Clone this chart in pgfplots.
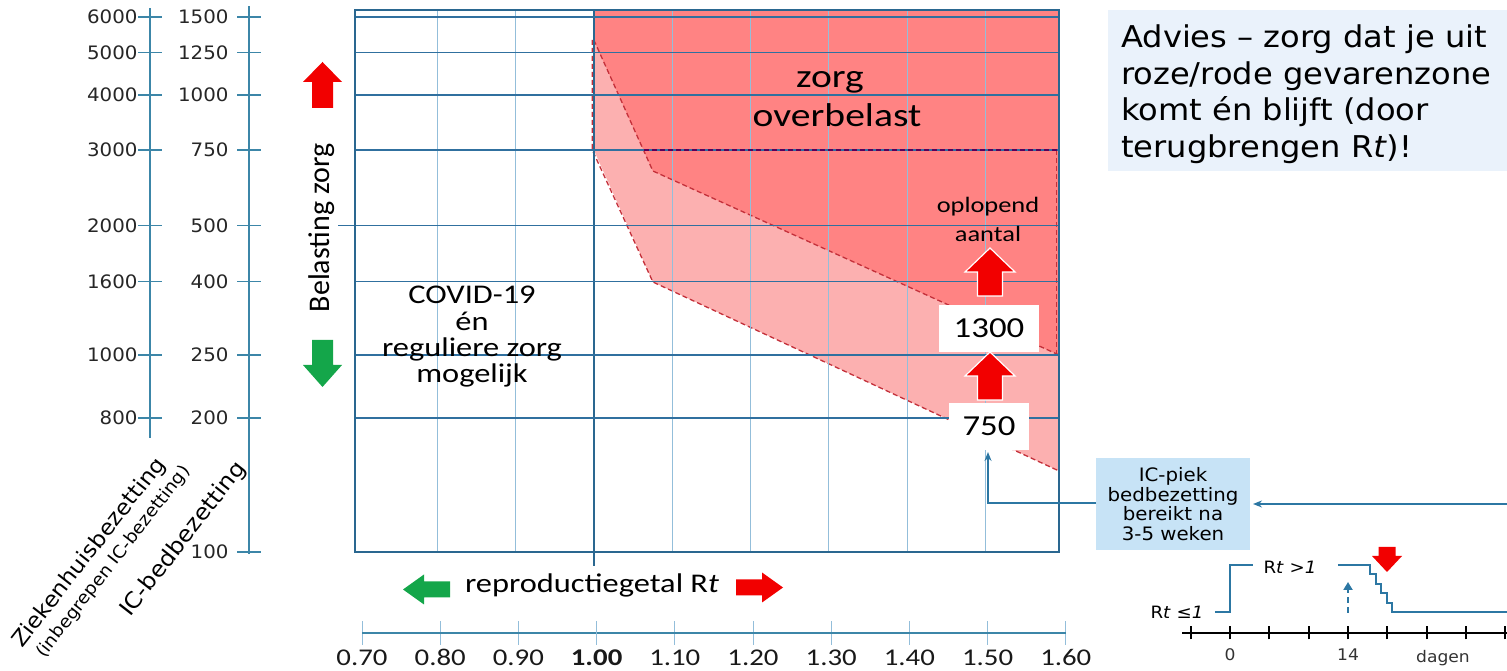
\documentclass[border=0pt]{standalone}
\usepackage{pgfplots}
\pgfplotsset{compat=1.18}
\usepackage{fontspec}
\usetikzlibrary{arrows.meta}
\setmainfont[FakeStretch=1.07]{DejaVu Sans}
\newfontfamily\calS[FakeStretch=1.2]{Carlito}
\newfontfamily\calR{Carlito}
\newcommand{\fs}[2]{\fontsize{#1pt}{#2pt}\selectfont}
\definecolor{gridblue}{HTML}{30709F}
\definecolor{lightgrid}{HTML}{93BEDA}
\definecolor{axisblue}{HTML}{2A6790}
\definecolor{axiscol}{HTML}{3C86A8}
\definecolor{darkzone}{HTML}{FF8383}
\definecolor{pinkzone}{HTML}{FCB0B0}
\definecolor{zoneline}{HTML}{C4303A}
\definecolor{arrowred}{HTML}{F20000}
\definecolor{arrowgreen}{HTML}{14A64A}
\definecolor{boxlight}{HTML}{EAF2FB}
\definecolor{boxblue}{HTML}{C7E3F6}
\definecolor{stepblue}{HTML}{2C77A3}
\newcommand{\bigarrow}[8]{\fill[#1, shift={(#2pt,#3pt)}, rotate=#4] (0pt,0pt) -- (-#5pt,-#7pt) -- (-#6pt,-#7pt) -- (-#6pt,-#8pt) -- (#6pt,-#8pt) -- (#6pt,-#7pt) -- (#5pt,-#7pt) -- cycle;}
\begin{document}
\begin{tikzpicture}
\useasboundingbox (0pt,0pt) rectangle (1507pt,671pt);
% ---------------- main chart ----------------
\begin{axis}[
  axis on top, clip=false,
  at={(355pt,119pt)}, anchor=south west, scale only axis,
  width=704pt, height=542pt,
  xmin=0.695, xmax=1.594, ymin=0, ymax=542,
  xtick={0.8,0.9,1.1,1.2,1.3,1.4,1.5},
  ytick={134,197,270.5,326.5,402,457,499.5,535},
  xticklabels={}, yticklabels={},
  major tick length=0pt,
  xmajorgrids, ymajorgrids,
  x grid style={lightgrid, line width=1pt},
  y grid style={gridblue, line width=1.5pt},
  axis line style={axisblue, line width=2pt},
]
% pink zone
\addplot[fill=pinkzone, draw=none] coordinates {(1.0,512) (1.0,402) (1.0754,270) (1.594,81) (1.594,542) (1.0,542)};
% dark zone (zorg overbelast)
\addplot[fill=darkzone, draw=none] coordinates {(1.0,542) (1.594,542) (1.594,197) (1.0754,381) (1.0,512)};
% dashed boundaries
\addplot[zoneline, line width=1.3pt, dash pattern=on 5pt off 3pt] coordinates {(1.0,512) (1.0754,381) (1.594,197)};
\addplot[zoneline, line width=1.3pt, dash pattern=on 5pt off 3pt] coordinates {(0.998,512) (0.998,402) (1.0754,270) (1.594,81)};
\addplot[zoneline, line width=1.3pt, dash pattern=on 5pt off 3pt] coordinates {(1.591,402) (1.591,197)};
\draw[axisblue, line width=2.5pt] (axis cs:1,-14) -- (axis cs:1,542);
\draw[gridblue, line width=1.5pt] (axis cs:0.695,326.5) -- ++(-17pt,0pt);
\end{axis}
% ---------------- IC axis ----------------
\begin{axis}[
  at={(249pt,117pt)}, anchor=south west, scale only axis,
  width=20pt, height=548pt, xmin=0, xmax=1, ymin=-2, ymax=546,
  hide x axis, axis y line=left,
  y axis line style={-, axiscol, line width=1.3pt},
  ytick={0,134,197,270.5,326.5,402,457,499.5,535},
  yticklabels={100,200,250,400,500,750,1000,1250,1500},
  tick align=center, major tick length=24pt,
  ytick style={axiscol, line width=1.3pt},
  yticklabel style={font=\fs{18.5}{18.5}, text=black!85, xshift=-5pt},
]
\end{axis}
% ---------------- Ziekenhuis axis ----------------
\begin{axis}[
  at={(150pt,233pt)}, anchor=south west, scale only axis,
  width=20pt, height=430pt, xmin=0, xmax=1, ymin=114, ymax=544,
  hide x axis, axis y line=left,
  y axis line style={-, axiscol, line width=1.3pt},
  ytick={134,197,270.5,326.5,402,457,499.5,535},
  yticklabels={800,1000,1600,2000,3000,4000,5000,6000},
  tick align=center, major tick length=24pt,
  ytick style={axiscol, line width=1.3pt},
  yticklabel style={font=\fs{18.5}{18.5}, text=black!85, xshift=3pt},
]
\end{axis}
% ---------------- Rt axis ----------------
\begin{axis}[
  at={(362pt,38pt)}, anchor=south west, scale only axis,
  width=703.8pt, height=10pt, xmin=0.70, xmax=1.60, ymin=0, ymax=1,
  hide y axis, axis x line=bottom,
  x axis line style={-, axiscol, line width=1.5pt},
  xtick={0.7,0.8,0.9,1.0,1.1,1.2,1.3,1.4,1.5,1.6},
  xticklabels={0.70,0.80,0.90,\textbf{1.00},1.10,1.20,1.30,1.40,1.50,1.60},
  extra x ticks={1.0}, extra x tick labels={},
  extra x tick style={tick style={axisblue, line width=2pt}},
  tick align=center, major tick length=24pt,
  xtick style={lightgrid, line width=1pt},
  xticklabel style={font=\calS\fs{24}{24}, text=black!90, yshift=-1pt},
]
\end{axis}
% ---------------- small step chart ----------------
\begin{axis}[
  at={(1182pt,38pt)}, anchor=south west, scale only axis,
  width=325pt, height=90pt, xmin=-5.69, xmax=32.86, ymin=0, ymax=90,
  hide y axis, axis x line=bottom, clip=false,
  x axis line style={-, black, line width=2pt},
  xtick={-4.667,0,4.667,9.333,14,18.667,23.333,28,32.667},
  xticklabels={,0,,,14,,,,},
  tick align=center, major tick length=13pt,
  xtick style={black, line width=2pt},
  xticklabel style={font=\fs{16}{16}, text=black!80, yshift=-6pt},
]
\addplot[stepblue, line width=2pt] coordinates {(-1.8,21) (0,21) (0,68) (2.7,68)};
\addplot[stepblue, line width=2pt] coordinates {(12.8,68) (16.6,68) (16.6,58.6) (17.3,58.6) (17.3,49.2) (17.9,49.2) (17.9,39.8) (18.6,39.8) (18.6,30.4) (19.2,30.4) (19.2,21) (32.86,21)};
\draw[stepblue, line width=2.5pt, dash pattern=on 6pt off 4pt, -{Triangle[length=8pt,width=9pt]}] (axis cs:14,20) -- (axis cs:14,51);
\end{axis}
% ---------------- arrows ----------------
\bigarrow{arrowred}{322.5}{609}{0}{19.5}{10.5}{20}{46}
\bigarrow{arrowgreen}{322.5}{284}{180}{19.5}{10.5}{22}{47}
\bigarrow{arrowgreen}{403}{81.5}{90}{15}{8}{21}{47}
\bigarrow{arrowred}{783}{83.5}{-90}{15}{8}{21}{47}
\bigarrow{arrowred, draw=white, line width=1.2pt}{990}{319}{0}{25}{12.5}{24}{48}
\bigarrow{arrowred, draw=white, line width=1.2pt}{990}{423}{0}{25}{12.5}{24}{48}
\bigarrow{arrowred}{1387}{99}{180}{15}{8.5}{16}{25}
\draw[violet!70!black, line width=1.3pt, dash pattern=on 5pt off 3pt] (644pt,521pt) -- (1057pt,521pt);
% ---------------- texts in main chart ----------------
\node[anchor=base, font=\calS\fs{33}{33}] at (830pt,583pt) {zorg};
\node[anchor=base, font=\calS\fs{33}{33}] at (837pt,544pt) {overbelast};
\node[align=center, font=\calS\fs{27}{26.3}] at (472pt,334pt) {COVID-19\\én\\reguliere zorg\\mogelijk};
\node[align=center, font=\calS\fs{22}{29}] at (988pt,451.5pt) {oplopend\\aantal};
\fill[white] (939pt,319pt) rectangle (1039pt,366pt);
\node[font=\calS\fs{29}{29}] at (989pt,342.5pt) {1300};
\fill[white] (949pt,221pt) rectangle (1029pt,268pt);
\node[font=\calS\fs{29}{29}] at (989pt,244.5pt) {750};
\node[rotate=90, font=\calR\fs{30}{30}] at (322pt,443pt) {Belasting zorg};
\node[font=\calS\fs{27}{27}] at (592pt,86pt) {reproductiegetal R\textit{t}};
% ---------------- left axis titles ----------------
\node[rotate=52, anchor=base west, inner sep=0pt, font=\fs{21.5}{21.5}] at (22pt,22pt) {Ziekenhuisbezetting};
\node[rotate=52, anchor=base west, inner sep=0pt, font=\fs{17.3}{17.3}] at (44pt,12pt) {(inbegrepen IC-bezetting)};
\node[rotate=52, anchor=base west, inner sep=0pt, font=\fs{22.2}{22.2}] at (130pt,53pt) {IC-bedbezetting};
% ---------------- advice box ----------------
\fill[boxlight] (1108pt,500pt) rectangle (1507pt,661pt);
\node[anchor=base west, inner sep=0pt, font=\fs{30}{30}] at (1121pt,623pt) {Advies – zorg dat je uit};
\node[anchor=base west, inner sep=0pt, font=\fs{30}{30}] at (1121pt,586pt) {roze/rode gevarenzone};
\node[anchor=base west, inner sep=0pt, font=\fs{30}{30}] at (1121pt,550pt) {komt én blijft (door};
\node[anchor=base west, inner sep=0pt, font=\fs{30}{30}] at (1121pt,513.5pt) {terugbrengen R\textit{t})!};
% ---------------- IC-piek box ----------------
\fill[boxblue] (1096pt,121pt) rectangle (1250pt,213pt);
\node[align=center, font=\fs{18.5}{19.5}] at (1173pt,167pt) {IC-piek\\bedbezetting\\bereikt na\\3-5 weken};
\draw[stepblue, line width=1.5pt, -{Stealth[length=9pt,width=7pt]}] (1507pt,167pt) -- (1253pt,167pt);
\draw[stepblue, line width=1.8pt, -{Stealth[length=9pt,width=7pt]}] (1096pt,168pt) -- (988pt,168pt) -- (988pt,219pt);
% ---------------- step chart labels ----------------
\node[font=\fs{17}{17}] at (1177pt,59pt) {R\textit{t} ≤\textit{1}};
\node[font=\fs{17}{17}] at (1290pt,104pt) {R\textit{t} >\textit{1}};
\node[font=\fs{16}{16}, text=black!80] at (1443pt,13pt) {dagen};
\end{tikzpicture}
\end{document}
